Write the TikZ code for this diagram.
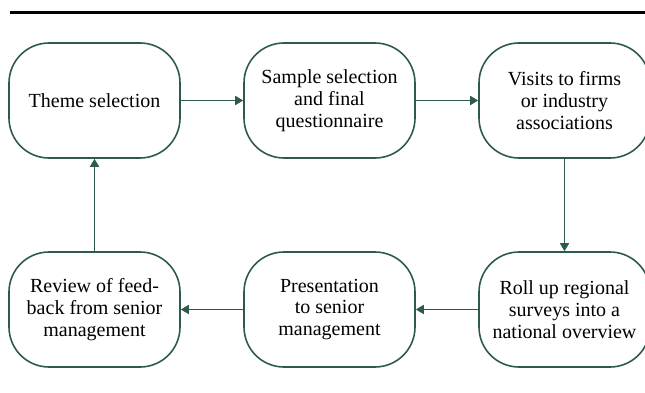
\documentclass[tikz,border=0pt]{standalone}
\usepackage{fontspec}
\setmainfont{Liberation Serif}
\usetikzlibrary{arrows.meta}
\definecolor{dkgreen}{HTML}{2E5A4E}
\tikzset{
  stepbox/.style={draw=dkgreen, line width=1.6pt, rounded corners=40pt,
    minimum width=171pt, minimum height=115pt, inner sep=0pt,
    align=center, font=\fontsize{20}{21.7}\selectfont, text=black},
  conn/.style={draw=dkgreen, line width=1.6pt, -{Triangle[length=8pt,width=9pt]}}
}
\begin{document}
\begin{tikzpicture}[x=1pt,y=-1pt]
\useasboundingbox (0,0) rectangle (645,393);
\clip (0,0) rectangle (645,393);
\draw[line width=3pt, black] (10,13) -- (645,13);
\node[stepbox] (a) at (94.5,100.5) {Theme selection};
\node[stepbox] (b) at (329.5,100.5) {Sample selection\\and final\\questionnaire};
\node[stepbox] (c) at (564.5,100.5) {Visits to firms\\or industry\\associations};
\node[stepbox] (d) at (564.5,309.5) {Roll up regional\\surveys into a\\national overview};
\node[stepbox] (e) at (329.5,309.5) {Presentation\\to senior\\management};
\node[stepbox] (f) at (94.5,309.5) {Review of feed-\\back from senior\\management};
\draw[conn] (a) -- (b);
\draw[conn] (b) -- (c);
\draw[conn] (c) -- (d);
\draw[conn] (d) -- (e);
\draw[conn] (e) -- (f);
\draw[conn] (f) -- (a);
\end{tikzpicture}
\end{document}
